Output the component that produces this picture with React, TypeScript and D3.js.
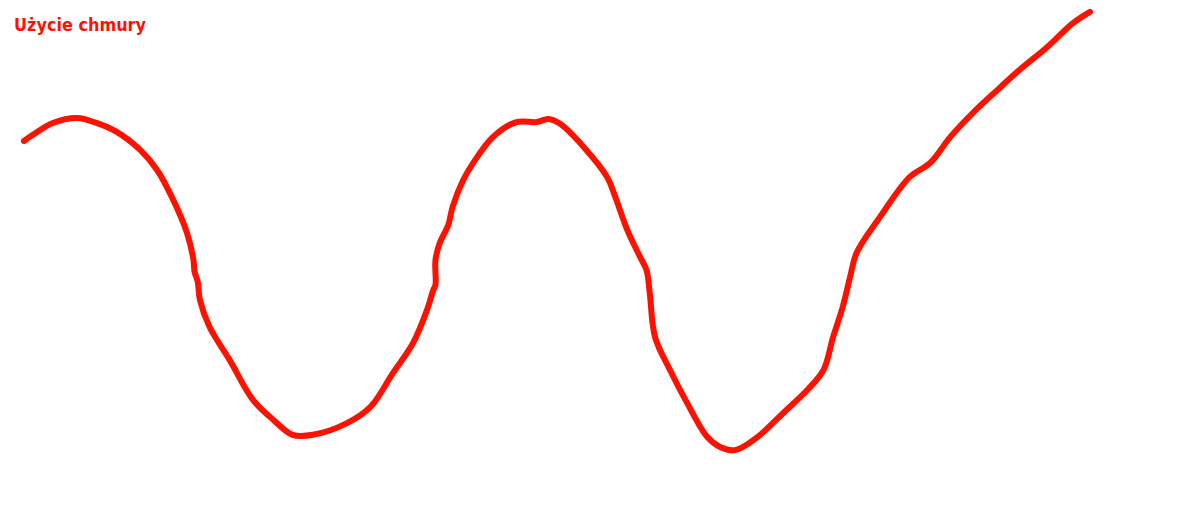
import React from "react";
import * as d3 from "d3";

const title = "Użycie chmury";

// time (0..100) and usage (0..100)
const timeValues = [
  0, 0.8, 2.7, 5.0, 6.8, 8.7, 10.9, 12.5, 14.0, 15.3, 15.9, 16.0, 16.3, 16.5, 17.4, 19.3,
  21.5, 23.4, 25.2, 27.1, 30.3, 32.5, 34.6, 36.5, 37.8, 38.4, 38.6, 38.6, 39.0, 39.8, 40.2,
  41.2, 42.5, 44.0, 46.2, 48.1, 49.2, 50.3, 52.6, 54.7, 55.4, 56.6, 57.8, 58.4, 58.7, 59.2,
  60.6, 62.2, 64.1, 65.3, 66.7, 68.8, 71.2, 73.5, 75.0, 75.9, 76.8, 77.5, 78.1, 80.3, 83.1,
  85.0, 86.9, 89.0, 91.3, 93.4, 96.0, 98.4, 100,
];
const usageValues = [
  70.9, 72.2, 74.9, 76.0, 74.9, 72.9, 68.9, 64.4, 57.8, 50.4, 44.4, 41.8, 39.6, 35.6, 29.6, 22.2,
  13.3, 8.9, 5.6, 5.6, 8.2, 11.8, 19.3, 26.0, 33.3, 37.8, 38.9, 44.4, 48.2, 52.2, 56.2,
  62.2, 67.3, 71.8, 75.1, 75.1, 75.8, 74.7, 69.3, 62.9, 58.9, 51.1, 45.1, 42.2, 37.1, 27.3,
  20.0, 12.7, 5.1, 2.9, 2.2, 5.1, 10.4, 15.6, 20.0, 27.3, 34.0, 40.7, 46.0, 54.0, 62.9,
  66.0, 71.8, 77.1, 82.2, 86.7, 91.8, 97.1, 99.6,
];

const W = 1200;
const H = 532;

export default function App() {
  const x = d3.scaleLinear().domain([0, 100]).range([24, 1090]);
  const y = d3.scaleLinear().domain([0, 100]).range([460, 10]);
  const pts: [number, number][] = timeValues.map((t, i) => [t, usageValues[i]]);
  const line = d3
    .line<[number, number]>()
    .x((d) => x(d[0]))
    .y((d) => y(d[1]))
    .curve(d3.curveCatmullRom.alpha(0.5));
  return (
    <svg
      width={W}
      height={H}
      style={{ position: "absolute", left: 0, top: 0, display: "block", background: "#fff" }}
    >
      <text
        x={14}
        y={31}
        fill="#ff1100"
        fontFamily="'DejaVu Sans', sans-serif"
        fontWeight="bold"
        fontSize={18}
        textLength={132}
        lengthAdjust="spacingAndGlyphs"
      >
        {title}
      </text>
      <path
        d={line(pts) || ""}
        fill="none"
        stroke="#ff1100"
        strokeWidth={6}
        strokeLinecap="round"
        strokeLinejoin="round"
      />
    </svg>
  );
}
